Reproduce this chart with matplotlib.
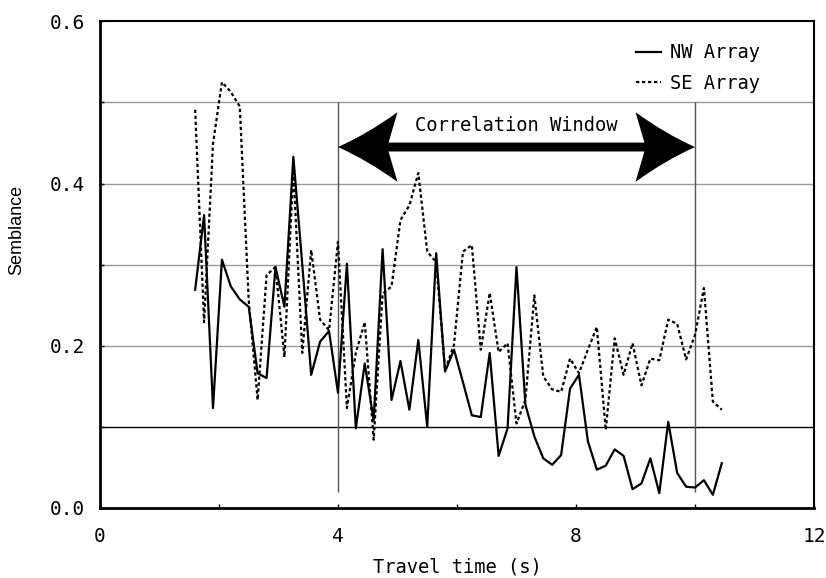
import matplotlib
matplotlib.use("Agg")
import matplotlib.pyplot as plt
from matplotlib.path import Path
from matplotlib.patches import PathPatch

# travel time of each semblance sample (s)
travel_time = [
    1.60, 1.75, 1.90, 2.05, 2.20, 2.35, 2.50, 2.65, 2.80, 2.95,
    3.10, 3.25, 3.40, 3.55, 3.70, 3.85, 4.00, 4.15, 4.30, 4.45,
    4.60, 4.75, 4.90, 5.05, 5.20, 5.35, 5.50, 5.65, 5.80, 5.95,
    6.10, 6.25, 6.40, 6.55, 6.70, 6.85, 7.00, 7.15, 7.30, 7.45,
    7.60, 7.75, 7.90, 8.05, 8.20, 8.35, 8.50, 8.65, 8.80, 8.95,
    9.10, 9.25, 9.40, 9.55, 9.70, 9.85, 10.00, 10.15, 10.30, 10.45,
]

nw_array = [
    0.269, 0.361, 0.123, 0.306, 0.273, 0.257, 0.248, 0.166, 0.160, 0.297,
    0.248, 0.433, 0.300, 0.164, 0.205, 0.218, 0.142, 0.301, 0.098, 0.178,
    0.108, 0.319, 0.133, 0.181, 0.121, 0.207, 0.100, 0.314, 0.168, 0.195,
    0.155, 0.114, 0.112, 0.191, 0.064, 0.098, 0.297, 0.127, 0.088, 0.061,
    0.053, 0.065, 0.147, 0.164, 0.082, 0.047, 0.052, 0.072, 0.064, 0.023,
    0.030, 0.061, 0.018, 0.106, 0.043, 0.026, 0.025, 0.034, 0.016, 0.055,
]

se_array = [
    0.491, 0.229, 0.449, 0.525, 0.513, 0.495, 0.256, 0.133, 0.287, 0.297,
    0.186, 0.417, 0.191, 0.318, 0.232, 0.219, 0.328, 0.123, 0.191, 0.229,
    0.084, 0.264, 0.273, 0.355, 0.373, 0.413, 0.316, 0.303, 0.170, 0.201,
    0.316, 0.324, 0.195, 0.265, 0.192, 0.203, 0.104, 0.133, 0.262, 0.162,
    0.146, 0.143, 0.184, 0.166, 0.195, 0.223, 0.096, 0.209, 0.164, 0.203,
    0.151, 0.184, 0.182, 0.232, 0.227, 0.183, 0.213, 0.271, 0.131, 0.121,
]

window = (4.0, 10.0)
grid_levels = [0.1, 0.2, 0.3, 0.4, 0.5]

mono = "DejaVu Sans Mono"


def window_arrow(x0, x1, y, head_len=1.0, barb=0.043, shaft=0.0055, sweep=0.15):
    """Double-headed arrow with concave, swept-back heads (data coords)."""
    verts, codes = [], []

    def head(tip, sgn):
        bx = tip + sgn * head_len
        ctrl = tip + sgn * 0.5 * head_len
        upper = [((ctrl, y + 0.38 * barb), (bx, y + barb)), (bx - sgn * sweep, y + shaft)]
        lower = [(bx - sgn * sweep, y - shaft), (bx, y - barb), (ctrl, y - 0.38 * barb)]
        return upper, lower

    up_l, lo_l = head(x0, 1)
    up_r, lo_r = head(x1, -1)
    # left tip, upper edge of left head
    verts.append((x0, y)); codes.append(Path.MOVETO)
    verts += list(up_l[0]); codes += [Path.CURVE3, Path.CURVE3]
    verts.append(up_l[1]); codes.append(Path.LINETO)
    # shaft top, then right head
    verts.append(up_r[1]); codes.append(Path.LINETO)
    verts.append(up_r[0][1]); codes.append(Path.LINETO)
    verts += [up_r[0][0], (x1, y)]; codes += [Path.CURVE3, Path.CURVE3]
    verts += [lo_r[2], lo_r[1]]; codes += [Path.CURVE3, Path.CURVE3]
    verts.append(lo_r[0]); codes.append(Path.LINETO)
    # shaft bottom back to left head
    verts.append(lo_l[0]); codes.append(Path.LINETO)
    verts.append(lo_l[1]); codes.append(Path.LINETO)
    verts += [lo_l[2], (x0, y)]; codes += [Path.CURVE3, Path.CURVE3]
    verts.append((x0, y)); codes.append(Path.CLOSEPOLY)
    return Path(verts, codes)


fig = plt.figure(figsize=(8.26, 5.78), dpi=100)
ax = fig.add_axes([0.121, 0.1215, 0.8645, 0.8415])

# horizontal reference lines (0.1 drawn black, the rest gray)
for lv in grid_levels:
    ax.axhline(lv, color="black" if lv == 0.1 else "#999999", lw=1.0, zorder=1)

# correlation window limits
for tx in window:
    ax.vlines(tx, 0.02, 0.5, color="#555555", lw=1.0, zorder=1)

ax.plot(travel_time, nw_array, color="black", lw=1.6, label="NW Array", zorder=3)
ax.plot(travel_time, se_array, color="black", lw=1.6, ls=(0, (1.5, 1.2)),
        label="SE Array", zorder=3)

ax.add_patch(PathPatch(window_arrow(window[0], window[1], 0.445),
                       facecolor="black", edgecolor="none", zorder=4))
ax.text(sum(window) / 2, 0.472, "Correlation Window", ha="center", va="center",
        fontsize=13.5, family=mono, zorder=5)

ax.set_xlim(0, 12)
ax.set_ylim(0, 0.6)
ax.set_xticks([0, 2, 4, 6, 8, 10, 12])
ax.set_xticklabels(["0", "", "4", "", "8", "", "12"])
ax.set_yticks([0.0, 0.1, 0.2, 0.3, 0.4, 0.5, 0.6])
ax.set_yticklabels(["0.0", "", "0.2", "", "0.4", "", "0.6"])
ax.tick_params(direction="in", length=3, width=1, labelsize=14, pad=11)
ax.tick_params(axis="x", pad=14)
for lab in ax.get_xticklabels() + ax.get_yticklabels():
    lab.set_family(mono)

for side in ["left", "bottom"]:
    ax.spines[side].set_linewidth(2.0)
for side in ["top", "right"]:
    ax.spines[side].set_linewidth(1.5)

ax.set_xlabel("Travel time (s)", fontsize=13.5, family=mono)
ax.xaxis.set_label_coords(0.501, -0.102)
ax.set_ylabel("Semblance", fontsize=13, family=["Liberation Sans Narrow", "Liberation Sans"])
ax.yaxis.set_label_coords(-0.105, 0.571)

ax.legend(loc="upper left", bbox_to_anchor=(0.751, 0.955), frameon=False,
          prop={"family": mono, "size": 13.5}, handlelength=1.3,
          handletextpad=0.5, borderpad=0, borderaxespad=0, labelspacing=0.6)

fig.savefig("out.png", dpi=100)
plt.close(fig)
